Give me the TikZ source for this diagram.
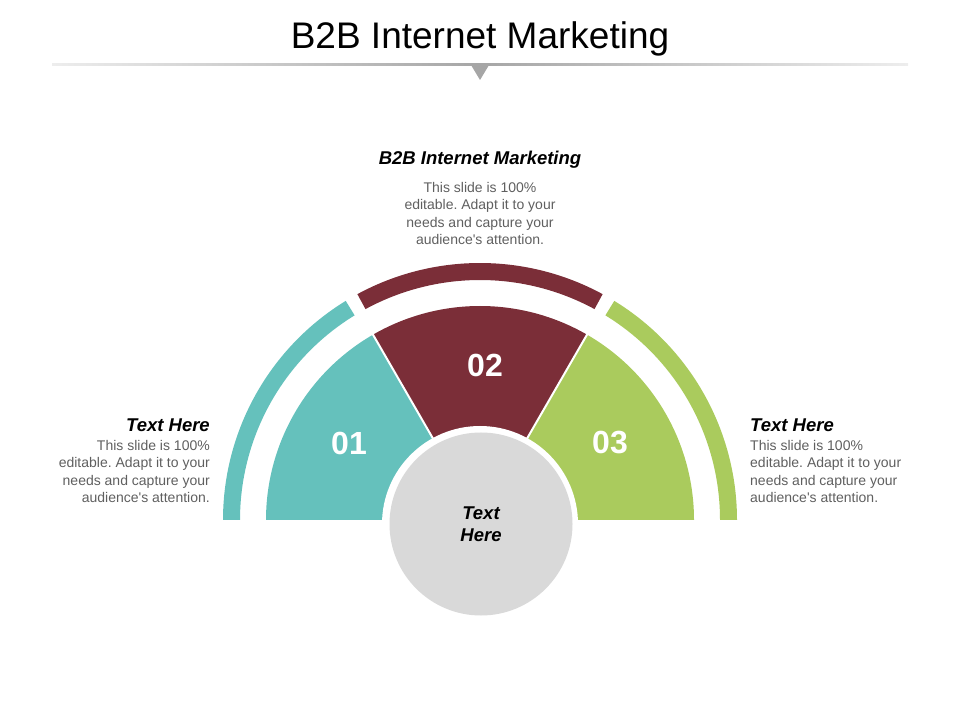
\documentclass[tikz,border=0pt]{standalone}
\usepackage{fontspec}
\setmainfont{Liberation Sans}
\usetikzlibrary{positioning}
\definecolor{tealA}{HTML}{65C1BC}
\definecolor{wineA}{HTML}{7B2E38}
\definecolor{limeA}{HTML}{AACB5D}
\definecolor{greyA}{HTML}{D9D9D9}
\definecolor{txtgrey}{HTML}{5F5F5F}
\frenchspacing
\tikzset{
    numtxt/.style={text=white, font=\fontsize{32}{36}\selectfont\bfseries, inner sep=0pt},
    headtxt/.style={font=\fontsize{18.5}{22}\selectfont\bfseries\itshape, inner sep=0pt},
    bodytxt/.style={text=txtgrey, font=\fontsize{14}{17.5}\selectfont, inner sep=0pt},
}

\begin{document}
\begin{tikzpicture}[x=1pt, y=1pt]
    \useasboundingbox (0,0) rectangle (960,720);
    % title and rule
    \node[font=\fontsize{37}{40}\selectfont, anchor=base, inner sep=0pt] (ttl) at (480,671) {B2B Internet Marketing};
    \shade[left color=black!7, right color=black!35] (52,654) rectangle (480,656);
    \shade[left color=black!35, right color=black!7] (480,654) rectangle (908,656);
    \fill[black!35] (471,655) -- (489,655) -- (480,640) -- cycle;
    % sectors
    \coordinate (c) at (480,200);
    \fill[tealA] (c) -- ++(180:214) arc[start angle=180, end angle=120, radius=214] -- cycle;
    \fill[wineA] (c) -- ++(120:214) arc[start angle=120, end angle=60, radius=214] -- cycle;
    \fill[limeA] (c) -- ++(60:214) arc[start angle=60, end angle=0, radius=214] -- cycle;
    \draw[white, line width=2pt] (c) -- ++(120:216) (c) -- ++(60:216);
    % outer ring
    \begin{scope}[shift={(c)}]
        \fill[tealA] (180:257) arc[start angle=180, end angle=121.5, radius=257] -- (121.5:240) arc[start angle=121.5, end angle=180, radius=240] -- cycle;
        \fill[wineA] (118.5:257) arc[start angle=118.5, end angle=61.5, radius=257] -- (61.5:240) arc[start angle=61.5, end angle=118.5, radius=240] -- cycle;
        \fill[limeA] (58.5:257) arc[start angle=58.5, end angle=0, radius=257] -- (0:240) arc[start angle=0, end angle=58.5, radius=240] -- cycle;
    \end{scope}
    % hub
    \fill[white] (480,196) circle[radius=98];
    \node[circle, fill=greyA, minimum size=183pt, headtxt, align=center] (hub) at (481,196) {Text\\Here};
    \node[numtxt] (n1) at (349,277) {01};
    \node[numtxt] (n2) at (485,354.5) {02};
    \node[numtxt] (n3) at (610,277) {03};
    % top text
    \node[headtxt, anchor=base] (thd) at (480,555) {B2B Internet Marketing};
    \node[bodytxt, align=center, below=13pt of thd] (tbd) {This slide is 100\%\\editable. Adapt it to your\\needs and capture your\\audience\textquotesingle s attention.};
    % left text
    \node[headtxt, anchor=base east] (lhd) at (210,288.3) {Text Here};
    \node[bodytxt, align=right, anchor=north east] (lbd) at ([yshift=-8pt]lhd.south east) {This slide is 100\%\\editable. Adapt it to your\\needs and capture your\\audience\textquotesingle s attention.};
    % right text
    \node[headtxt, anchor=base west] (rhd) at (750,288.3) {Text Here};
    \node[bodytxt, align=left, anchor=north west] (rbd) at ([yshift=-8pt]rhd.south west) {This slide is 100\%\\editable. Adapt it to your\\needs and capture your\\audience\textquotesingle s attention.};
\end{tikzpicture}
\end{document}
